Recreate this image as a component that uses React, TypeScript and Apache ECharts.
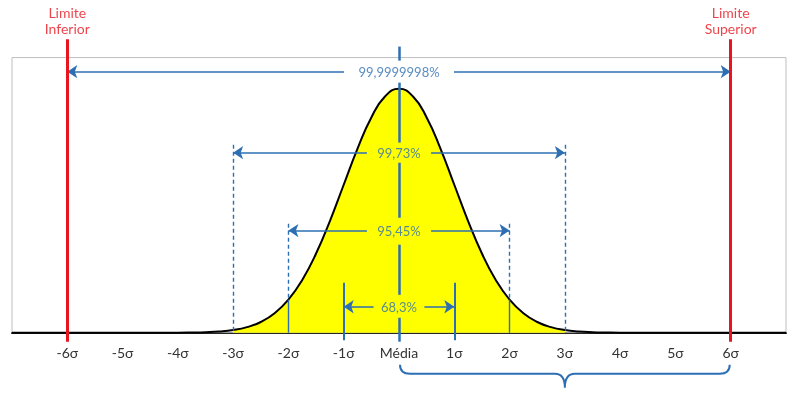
import React, { useEffect, useRef } from 'react';
import * as echarts from 'echarts';

// Curve (x in σ, y = density)
const curveX = [-7, -6, -5, -4.5, -4, -3.75, -3.5, -3.25, -3, -2.75, -2.5, -2.25, -2, -1.75, -1.5, -1.25, -1, -0.75, -0.5, -0.25, 0,
  0.25, 0.5, 0.75, 1, 1.25, 1.5, 1.75, 2, 2.25, 2.5, 2.75, 3, 3.25, 3.5, 3.75, 4, 4.5, 5, 6, 7];
const curveY = [0, 0, 0, 0, 0.0001, 0.0004, 0.0009, 0.002, 0.0044, 0.0091, 0.0175, 0.0317, 0.054, 0.0863, 0.1295, 0.1826, 0.242, 0.3011, 0.3521, 0.3867, 0.3989,
  0.3867, 0.3521, 0.3011, 0.242, 0.1826, 0.1295, 0.0863, 0.054, 0.0317, 0.0175, 0.0091, 0.0044, 0.002, 0.0009, 0.0004, 0.0001, 0, 0, 0, 0];
const fillRange = [-3, 3];

// Intervals (half width in σ), label, arrow level, half gap around label
const intervalHalfWidths = [1, 2, 3, 6];
const intervalLabels = ['68,3%', '95,45%', '99,73%', '99,9999998%'];
const intervalLevels = [0.0425, 0.167, 0.2945, 0.427];
const intervalGaps = [0.46, 0.58, 0.58, 0.995];

// Vertical guides
const guideSigmas = [1, 2, 3];
const guideTops = [0.0818, 0.1784, 0.3076];
const guideBottom = -0.0125;
const centerSegments = [[0.468, 0.445], [0.409, 0.311], [0.278, 0.188], [0.144, 0.062], [0.0245, -0.0147]];

// Specification limits
const limitPositions = [-6, 6];
const limitLabels = ['Limite\nInferior', 'Limite\nSuperior'];
const limitTop = 0.48;
const limitBottom = -0.0147;

// Bottom brace span
const braceSpan = [0, 6];

const BLUE = '#2e6fb3';
const RED = '#e8141e';
const FONT = 'Lato';

function densityAt(x: number) {
  const i = curveX.indexOf(x);
  return i >= 0 ? curveY[i] : 0;
}

export default function App() {
  const ref = useRef<HTMLDivElement>(null);
  useEffect(() => {
    if (!ref.current) return;
    const chart = echarts.init(ref.current, null, { renderer: 'svg' });

    const curveData = curveX.map((x, i) => [x, curveY[i]]);
    const fillData = curveData.filter((p) => p[0] >= fillRange[0] && p[0] <= fillRange[1]);

    const markLines: any[] = [];
    // arrows
    intervalHalfWidths.forEach((h, i) => {
      const y = intervalLevels[i];
      const g = intervalGaps[i];
      markLines.push([
        { coord: [-g, y], symbol: 'none' },
        { coord: [-h, y], symbol: 'arrow', lineStyle: { color: BLUE, width: 1.5, type: 'solid' } },
      ]);
      markLines.push([
        { coord: [g, y], symbol: 'none' },
        { coord: [h, y], symbol: 'arrow', lineStyle: { color: BLUE, width: 1.5, type: 'solid' } },
      ]);
    });
    // vertical guides
    guideSigmas.forEach((s, i) => {
      [-s, s].forEach((x) => {
        if (s === 1) {
          markLines.push([
            { coord: [x, guideTops[i]], symbol: 'none', lineStyle: { color: BLUE, width: 2, type: 'solid' } },
            { coord: [x, guideBottom], symbol: 'none' },
          ]);
        } else if (s === 2) {
          const yc = densityAt(x);
          markLines.push([
            { coord: [x, guideTops[i]], symbol: 'none', lineStyle: { color: BLUE, width: 1.4, type: [4, 3] } },
            { coord: [x, yc], symbol: 'none' },
          ]);
          markLines.push([
            { coord: [x, yc], symbol: 'none', lineStyle: { color: BLUE, width: 1.4, type: 'solid' } },
            { coord: [x, 0], symbol: 'none' },
          ]);
        } else {
          markLines.push([
            { coord: [x, guideTops[i]], symbol: 'none', lineStyle: { color: BLUE, width: 1.4, type: [4, 3] } },
            { coord: [x, 0], symbol: 'none' },
          ]);
        }
      });
    });
    // center line
    centerSegments.forEach((seg) => {
      markLines.push([
        { coord: [0, seg[0]], symbol: 'none', lineStyle: { color: BLUE, width: 2.5, type: 'solid' } },
        { coord: [0, seg[1]], symbol: 'none' },
      ]);
    });
    // limits
    limitPositions.forEach((x) => {
      markLines.push([
        { coord: [x, limitTop], symbol: 'none', lineStyle: { color: RED, width: 3, type: 'solid' } },
        { coord: [x, limitBottom], symbol: 'none' },
      ]);
    });

    const option: any = {
      animation: false,
      grid: { left: 12, right: 12, top: 27, bottom: 45, containLabel: false },
      xAxis: {
        type: 'value',
        min: -7,
        max: 7,
        interval: 1,
        axisLine: { onZero: true, lineStyle: { color: '#000', width: 2 } },
        axisTick: { show: false },
        splitLine: { show: false },
        axisLabel: {
          margin: -3,
          color: '#333',
          fontFamily: FONT,
          fontSize: 14,
          formatter: (v: number) => {
            if (Math.abs(v) >= 7) return '';
            if (v === 0) return 'Média';
            return v + 'σ';
          },
        },
      },
      yAxis: { type: 'value', min: -0.025, max: 0.5, show: false, splitLine: { show: false } },
      series: [
        {
          type: 'line',
          data: fillData,
          smooth: 0.5,
          symbol: 'none',
          lineStyle: { width: 0, color: '#ffff00' },
          areaStyle: { color: '#ffff00', opacity: 1 },
          z: 1,
          silent: true,
          markArea: {
            silent: true,
            itemStyle: { color: 'rgba(0,0,0,0)', borderColor: '#bfbfbf', borderWidth: 1 },
            data: [[{ coord: [-7, 0] }, { coord: [7, 0.45] }]],
          },
        },
        {
          type: 'line',
          data: curveData,
          smooth: 0.5,
          symbol: 'none',
          lineStyle: { width: 2, color: '#000' },
          z: 3,
          silent: true,
          markLine: {
            silent: true,
            symbol: 'none',
            symbolSize: 10,
            label: { show: false },
            emphasis: { disabled: true },
            lineStyle: { color: BLUE, width: 1.5, type: 'solid' },
            data: markLines,
          },
        },
        {
          type: 'scatter',
          symbolSize: 0,
          z: 5,
          silent: true,
          data: intervalLabels.map((l, i) => [0, intervalLevels[i], l]),
          label: {
            show: true,
            position: 'inside',
            color: BLUE,
            fontFamily: FONT,
            fontSize: 13,
            formatter: (p: any) => p.value[2],
          },
        },
        {
          type: 'scatter',
          symbolSize: 0,
          z: 5,
          silent: true,
          data: limitLabels.map((l, i) => [limitPositions[i], limitTop, l]),
          label: {
            show: true,
            position: 'top',
            distance: 3,
            color: RED,
            fontFamily: FONT,
            fontSize: 14,
            lineHeight: 16,
            align: 'center',
            formatter: (p: any) => p.value[2],
          },
        },
        {
          type: 'custom',
          silent: true,
          z: 5,
          data: [braceSpan],
          renderItem: (params: any, api: any) => {
            const a = api.coord([api.value(0), 0]);
            const b = api.coord([api.value(1), 0]);
            const x0 = a[0] + 1;
            const x1 = b[0] - 1;
            const y0 = a[1];
            const xm = (x0 + x1) / 2;
            const yTop = y0 + 32;
            const yH = y0 + 41;
            const yTip = y0 + 55;
            const d =
              `M${x0},${yTop} Q${x0},${yH} ${x0 + 10},${yH} L${xm - 10},${yH} Q${xm},${yH} ${xm},${yTip} ` +
              `Q${xm},${yH} ${xm + 10},${yH} L${x1 - 10},${yH} Q${x1},${yH} ${x1},${yTop}`;
            return {
              type: 'path',
              shape: { pathData: d },
              style: { stroke: BLUE, fill: 'none', lineWidth: 2 },
            };
          },
        },
      ],
    };
    chart.setOption(option);
    return () => chart.dispose();
  }, []);
  return <div ref={ref} style={{ position: 'fixed', left: 0, top: 0, width: 798, height: 393 }} />;
}
